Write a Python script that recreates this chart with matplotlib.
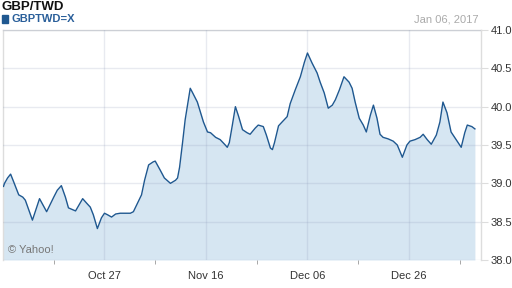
import numpy as np
import pandas as pd
import matplotlib
matplotlib.use("Agg")
import matplotlib.pyplot as plt
import matplotlib.dates as mdates

# 数据：汇率（天数从 2016-10-07 起算）
START_DATE = "2016-10-07"
day_offsets = [
    0.1, 0.3, 0.9, 1.5, 2.1, 3.1, 3.9, 4.4, 5.8, 7.2, 8.6, 10.0, 10.7, 11.5,
    12.3, 12.9, 14.3, 15.7, 16.5, 17.2, 17.8, 18.6, 19.4, 20.0, 20.6, 21.4,
    22.2, 23.1, 25.1, 25.7, 26.5, 27.3, 27.9, 28.7, 29.6, 30.0, 31.0, 31.8,
    33.0, 34.0, 34.4, 34.8, 35.4, 35.9, 36.9, 37.3, 38.3, 39.5, 40.3, 40.9,
    41.9, 42.8, 43.8, 44.2, 44.6, 45.2, 45.8, 46.4, 47.2, 48.1, 48.7, 49.7,
    50.3, 51.3, 51.9, 52.7, 53.1, 53.5, 54.3, 55.0, 56.0, 56.6, 57.6, 58.6,
    59.4, 60.0, 60.9, 61.9, 62.5, 63.3, 64.1, 64.9, 65.5, 66.3, 67.2, 68.2,
    68.8, 69.4, 70.2, 71.0, 71.6, 72.4, 73.0, 73.7, 74.3, 74.9, 75.9, 76.9,
    77.7, 78.7, 79.6, 80.2, 81.2, 82.2, 82.8, 83.6, 84.4, 85.4, 86.1, 86.7,
    87.5, 88.3, 89.3, 90.3, 91.0, 91.5, 92.4, 93.0,
]
rates = [
    38.96, 39.00, 39.07, 39.12, 39.02, 38.85, 38.82, 38.78, 38.52, 38.80,
    38.63, 38.82, 38.91, 38.97, 38.82, 38.68, 38.64, 38.80, 38.74, 38.69,
    38.59, 38.41, 38.55, 38.61, 38.59, 38.56, 38.60, 38.61, 38.61, 38.63,
    38.74, 38.85, 39.04, 39.24, 39.28, 39.29, 39.17, 39.07, 39.00, 39.04,
    39.07, 39.21, 39.54, 39.83, 40.24, 40.19, 40.06, 39.80, 39.67, 39.66,
    39.60, 39.57, 39.50, 39.47, 39.53, 39.76, 40.00, 39.88, 39.70, 39.66,
    39.64, 39.72, 39.76, 39.74, 39.63, 39.46, 39.44, 39.53, 39.75, 39.80,
    39.87, 40.04, 40.22, 40.39, 40.58, 40.70, 40.57, 40.44, 40.32, 40.18,
    39.98, 40.02, 40.09, 40.22, 40.39, 40.32, 40.24, 40.06, 39.85, 39.76,
    39.67, 39.89, 40.02, 39.85, 39.64, 39.60, 39.58, 39.55, 39.50, 39.34,
    39.50, 39.55, 39.57, 39.60, 39.64, 39.57, 39.51, 39.63, 39.80, 40.06,
    39.92, 39.67, 39.57, 39.47, 39.66, 39.76, 39.74, 39.71,
]
y_ticks = [38.0, 38.5, 39.0, 39.5, 40.0, 40.5, 41.0]
major_days = [20, 40, 60, 80]
minor_days = [10, 30, 50, 70, 90]

LINE_COLOR = "#1f5890"
FILL_COLOR = "#d6e6f2"
TEXT_COLOR = "#333333"

plt.rcParams["font.family"] = ["Liberation Sans", "DejaVu Sans"]

base = pd.Timestamp(START_DATE)
dates = base + pd.to_timedelta(day_offsets, unit="D")
x = mdates.date2num(dates.to_pydatetime())
major_dates = base + pd.to_timedelta(major_days, unit="D")
major_x = mdates.date2num(major_dates.to_pydatetime())
minor_x = mdates.date2num((base + pd.to_timedelta(minor_days, unit="D")).to_pydatetime())

fig = plt.figure(figsize=(5.12, 2.88), dpi=100)
ax = fig.add_axes([3/512, 28/288, 478/512, 230/288])

ax.fill_between(x, rates, 38.0, color=FILL_COLOR, lw=0, zorder=1)
ax.plot(x, rates, color=LINE_COLOR, lw=1.0, zorder=3)

ax.set_xlim(mdates.date2num(base.to_pydatetime()),
            mdates.date2num((base + pd.Timedelta(days=94.2)).to_pydatetime()))
ax.set_ylim(38.0, 41.0)

ax.set_xticks(major_x)
ax.set_xticklabels([d.strftime("%b %d") for d in major_dates])
ax.set_xticks(minor_x, minor=True)
ax.tick_params(axis="x", which="major", length=0, pad=8, labelsize=8,
               labelcolor=TEXT_COLOR)
ax.tick_params(axis="x", which="minor", length=3, color="#999999")

ax.yaxis.tick_right()
ax.set_yticks(y_ticks)
ax.set_yticklabels([f"{v:.1f}" for v in y_ticks])
ax.tick_params(axis="y", length=5, color="#dddddd", pad=2, labelsize=8,
               labelcolor=TEXT_COLOR)

ax.grid(True, which="major", color="#8c99b8", alpha=0.2, lw=1, zorder=2)
ax.set_axisbelow(False)

for side in ["left", "top", "right"]:
    ax.spines[side].set_color("#dddddd")
    ax.spines[side].set_linewidth(1)
ax.spines["bottom"].set_visible(False)

ax.text(0.01, 0.045, "© Yahoo!", transform=ax.transAxes, fontsize=8,
        color="#777777", va="center", zorder=4)

# 标题区
fig.text(2/512, 1 - 7/288, "GBP/TWD", fontsize=9.5, fontweight="bold",
         color="#111111", va="center", ha="left")
fig.patches.append(plt.Rectangle((2/512, 1 - 23/288), 6/512, 8/288,
                                 transform=fig.transFigure, color=LINE_COLOR))
fig.text(12/512, 1 - 19/288, "GBPTWD=X", fontsize=8, fontweight="bold",
         color="#2a5f9a", va="center", ha="left")
fig.text(478/512, 1 - 19/288, "Jan 06, 2017", fontsize=8, color="#aaaaaa",
         va="center", ha="right")

fig.savefig("out.png", dpi=100)
